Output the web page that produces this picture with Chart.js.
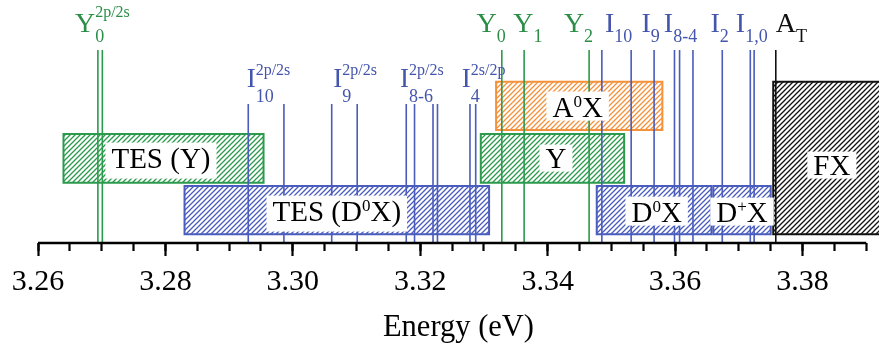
<!DOCTYPE html>
<html><head><meta charset="utf-8">
<script src="https://cdn.jsdelivr.net/npm/chart.js@4/dist/chart.umd.min.js"></script>
<style>html,body{margin:0;padding:0;background:#fff}canvas{display:block}</style>
</head><body>
<canvas id="c" width="879" height="349"></canvas>
<script>
// ---------------- data ----------------
const xTicks = [3.26, 3.28, 3.30, 3.32, 3.34, 3.36, 3.38];
// vertical peak lines (energies, eV)
const tesYLines = [3.2694, 3.2701];
const tesDLines = [3.2930, 3.2986, 3.3061, 3.3101, 3.3178, 3.3191, 3.3220, 3.3227, 3.3278, 3.3287];
const yLines = [3.3328, 3.3363, 3.3465];
const iLines = [3.3485, 3.3531, 3.3567, 3.3599, 3.3607, 3.3628, 3.3674, 3.3718, 3.3724];
const atLines = [3.3758];
// energy ranges (boxes)
const boxNames = ['TES (Y)', 'TES (D^0X)', 'A^0X', 'Y', 'D^0X', 'D^+X', 'FX'];
const boxStart = [3.2640, 3.2830, 3.3319, 3.3295, 3.3477, 3.3660, 3.3754];
const boxEnd   = [3.2954, 3.3308, 3.3580, 3.3520, 3.3657, 3.3750, 3.3925];
// peak labels
const peakMain = ['Y', 'I', 'I', 'I', 'I', 'Y', 'Y', 'Y', 'I', 'I', 'I', 'I', 'I', 'A'];
const peakSub  = ['0', '10', '9', '8-6', '4', '0', '1', '2', '10', '9', '8-4', '2', '1,0', 'T'];
const peakSup  = ['2p/2s', '2p/2s', '2p/2s', '2p/2s', '2s/2p', '', '', '', '', '', '', '', '', ''];

// ---------------- layout / style ----------------
const FONT = "'Liberation Serif','Times New Roman',serif";
const COL = {green: '#2c9a4c', blue: '#4a5cbc', orange: '#f4913b', black: '#111111'};
const TXT = {green: '#2a8e47', blue: '#4455ad', black: '#111111'};
const boxColor = ['green', 'blue', 'orange', 'green', 'blue', 'blue', 'black'];
const ROWS = {top: [113, 161.3], mid: [60.3, 109], low: [8.7, 57], full: [8.7, 161.3]};
const boxRow = ['mid', 'low', 'top', 'mid', 'low', 'low', 'full'];
const boxLabelAt = [[3.2793, 85], [3.3069, 32], [3.3447, 136], [3.3413, 85], [3.3571, 31], [3.3705, 31], [3.3846, 78]];
const TALL = 193, SHORT = 139;
// peak label anchors: left edge energy, row
const peakAt = [3.2658, 3.29275, 3.30634, 3.31681, 3.32651, 3.32884, 3.33459, 3.34254, 3.34898, 3.35473, 3.35823, 3.36556, 3.36953, 3.37581];
const peakRow = ['hi', 'mid', 'mid', 'mid', 'mid', 'hi', 'hi', 'hi', 'hi', 'hi', 'hi', 'hi', 'hi', 'hi'];
const peakColor = ['green', 'blue', 'blue', 'blue', 'blue', 'green', 'green', 'green', 'blue', 'blue', 'blue', 'blue', 'blue', 'black'];
const ROWSTYLE = {
  hi:  {base: 211, main: 28, sub: 18, subDy: 10, sup: 16, supDy: -15.5},
  mid: {base: 156, main: 27, sub: 18, subDy: 15, sup: 16, supDy: -12}
};

const ctx = document.getElementById('c').getContext('2d');
function hatch(color) {
  const s = 5;
  const c = document.createElement('canvas'); c.width = s; c.height = s;
  const g = c.getContext('2d');
  g.fillStyle = '#fff'; g.fillRect(0, 0, s, s);
  g.strokeStyle = color; g.lineWidth = 1.3;
  g.beginPath();
  g.moveTo(0, s); g.lineTo(s, 0);
  g.moveTo(-1, 1); g.lineTo(1, -1);
  g.moveTo(s - 1, s + 1); g.lineTo(s + 1, s - 1);
  g.stroke();
  return ctx.createPattern(c, 'repeat');
}

function vlines(arr, top) {
  const pts = [];
  arr.forEach(e => { pts.push({x: e, y: 0}, {x: e, y: top}, {x: e, y: null}); });
  return pts;
}

const datasets = [];
boxNames.forEach((n, i) => {
  const [b, t] = ROWS[boxRow[i]];
  const s = boxStart[i], e = boxEnd[i];
  datasets.push({
    label: n, order: 5,
    data: [{x: s, y: b}, {x: e, y: b}, {x: e, y: t}, {x: s, y: t}, {x: s, y: b}],
    borderColor: COL[boxColor[i]], borderWidth: 2, backgroundColor: hatch(COL[boxColor[i]]),
    fill: 'shape', pointRadius: 0, borderJoinStyle: 'miter', borderCapStyle: 'square', tension: 0
  });
});
const lineSets = [[tesYLines, TALL, 'green'], [tesDLines, SHORT, 'blue'], [yLines, TALL, 'green'], [iLines, TALL, 'blue'], [atLines, TALL, 'black']];
lineSets.forEach(([arr, top, c]) => {
  datasets.push({data: vlines(arr, top), borderColor: COL[c], borderWidth: 1.6, pointRadius: 0, fill: false, spanGaps: false, order: 3});
});
datasets.push({data: [{x: xTicks[0], y: 0}, {x: 3.39, y: 0}], borderColor: '#000', borderWidth: 2.6, pointRadius: 0, fill: false, clip: false, order: 1});

function parseRich(str, size, supSize) {
  const segs = [];
  for (let i = 0; i < str.length; i++) {
    if (str[i] === '^') { segs.push({t: str[i + 1], size: supSize, dy: -10}); i++; }
    else {
      if (segs.length && segs[segs.length - 1].dy === 0) segs[segs.length - 1].t += str[i];
      else segs.push({t: str[i], size: size, dy: 0});
    }
  }
  return segs;
}

const annot = {
  id: 'annot',
  afterDatasetsDraw(chart) {
    const c = chart.ctx, x = chart.scales.x, y = chart.scales.y;
    c.save();
    c.textBaseline = 'alphabetic';
    // box labels with white background
    boxNames.forEach((n, i) => {
      const segs = parseRich(n, 29, 17);
      let w = 0, asc = 0, desc = 0;
      segs.forEach(s => {
        c.font = s.size + 'px ' + FONT;
        const m = c.measureText(s.t);
        s.w = m.width; w += m.width;
        asc = Math.max(asc, m.actualBoundingBoxAscent - s.dy);
        desc = Math.max(desc, m.actualBoundingBoxDescent + s.dy);
      });
      const cx = x.getPixelForValue(boxLabelAt[i][0]);
      const cy = y.getPixelForValue(boxLabelAt[i][1]);
      const base = cy + 0.331 * 29;
      let lx = cx - w / 2;
      c.fillStyle = '#fff';
      c.fillRect(lx - 6, base - asc - 4, w + 12, asc + desc + 8);
      c.fillStyle = '#000';
      segs.forEach(s => {
        c.font = s.size + 'px ' + FONT;
        c.fillText(s.t, lx, base + s.dy);
        lx += s.w;
      });
    });
    // peak labels
    peakMain.forEach((m, i) => {
      const st = ROWSTYLE[peakRow[i]];
      const lx = x.getPixelForValue(peakAt[i]);
      const base = y.getPixelForValue(st.base);
      c.fillStyle = TXT[peakColor[i]];
      c.font = st.main + 'px ' + FONT;
      c.fillText(m, lx, base);
      const mw = c.measureText(m).width;
      if (peakSub[i]) { c.font = st.sub + 'px ' + FONT; c.fillText(peakSub[i], lx + mw, base + st.subDy); }
      if (peakSup[i]) { c.font = st.sup + 'px ' + FONT; c.fillText(peakSup[i], lx + mw, base + st.supDy); }
    });
    c.restore();
  }
};

Chart.defaults.font.family = FONT;
new Chart(ctx, {
  type: 'line',
  data: {datasets},
  options: {
    responsive: false, animation: false, events: [],
    layout: {padding: {left: 38, right: 0, top: 0, bottom: 0}},
    plugins: {legend: {display: false}, tooltip: {enabled: false}},
    scales: {
      x: {
        type: 'linear', min: 3.26, max: 3.392, position: 'bottom',
        afterBuildTicks: (s) => { s.ticks = xTicks.map(v => ({value: v})); },
        ticks: {font: {size: 30, family: FONT}, color: '#000', padding: 8, maxRotation: 0, autoSkip: false,
                callback: (v) => Number(v).toFixed(2)},
        grid: {drawOnChartArea: false, tickLength: 13, tickWidth: 2.2, tickColor: '#000'},
        border: {display: false},
        title: {display: true, text: 'Energy (eV)', color: '#000', font: {size: 30.5, family: FONT}, padding: {top: 1.4, bottom: 3}}
      },
      x2: {
        type: 'linear', min: 3.26, max: 3.392, position: {y: 0}, axis: 'x',
        ticks: {display: false, stepSize: 0.005, includeBounds: false},
        grid: {drawOnChartArea: false, tickLength: 8, tickWidth: 2.2, tickColor: '#000'},
        border: {display: false}
      },
      y: {type: 'linear', min: 0, max: 243, display: false}
    }
  },
  plugins: [annot]
});
</script>
</body></html>
